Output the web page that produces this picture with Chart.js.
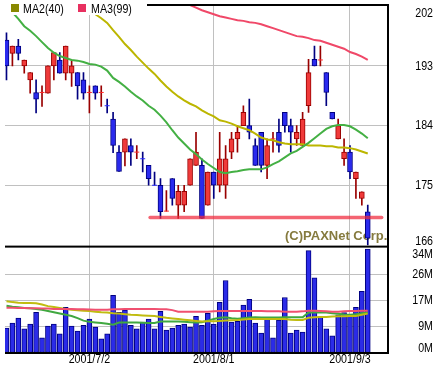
<!DOCTYPE html>
<html>
<head>
<meta charset="utf-8">
<script src="https://cdn.jsdelivr.net/npm/chart.js@4.4.1/dist/chart.umd.min.js"></script>
<style>
html, body { margin: 0; padding: 0; background: #fff; }
canvas { display: block; }
</style>
</head>
<body>
<canvas id="stock-chart" width="439" height="367"></canvas>
<script>
// daily candles, index 0 .. 61 (2001/7/2 is index 14)
const opens  = [196.9,194.9,196.0,193.0,190.9,189.0,189.0,188.9,193.0,193.9,
                191.9,191.9,192.0,190.9,189.0,190.0,189.0,187.0,185.0,180.0,
                180.0,181.0,180.0,179.0,178.0,175.0,175.0,171.1,176.0,172.0,
                172.0,175.0,178.0,178.0,172.0,177.0,175.0,175.0,180.0,182.0,
                184.0,184.0,181.0,183.0,178.0,182.0,183.0,186.0,184.0,182.0,
                181.0,187.0,194.0,193.9,192.0,186.0,182.0,179.0,180.0,176.0,
                173.0,171.0];
const highs  = [198.0,196.0,197.0,193.9,192.0,190.9,190.0,193.0,195.0,195.0,
                196.0,193.9,192.0,192.0,190.0,190.0,190.0,188.0,186.0,181.0,
                182.0,182.0,181.0,180.0,178.0,177.0,176.0,174.2,176.0,175.0,
                175.0,179.0,183.0,179.0,177.0,177.0,183.0,181.0,183.0,184.0,
                187.0,188.0,182.0,183.0,182.0,183.0,185.0,186.0,185.0,184.0,
                186.0,194.0,196.0,196.0,192.0,186.0,185.0,182.0,181.0,177.0,
                174.0,172.0];
const lows   = [190.9,193.0,193.9,191.9,188.9,185.9,186.9,188.9,190.9,191.9,
                190.9,189.9,188.0,188.0,185.9,188.0,186.9,185.9,179.9,177.1,
                177.9,178.0,179.0,177.0,175.0,175.0,170.0,171.1,172.0,170.0,
                171.0,175.0,178.0,170.0,172.0,173.0,174.0,173.0,179.0,180.0,
                184.0,182.0,178.0,177.0,176.0,180.0,180.0,183.0,180.0,181.0,
                181.0,186.0,193.0,193.0,187.0,185.0,182.0,178.0,176.0,173.0,
                172.0,166.0];
const closes = [193.0,196.0,194.9,193.9,192.0,188.0,189.0,193.0,195.0,191.9,
                196.0,193.0,190.0,188.9,189.0,188.9,189.0,187.0,181.0,177.1,
                182.0,180.0,180.0,179.0,176.0,175.0,171.0,171.1,173.0,174.1,
                174.1,179.0,180.0,170.0,177.0,175.0,179.0,179.0,182.0,183.0,
                186.0,183.0,178.0,178.0,181.0,182.0,181.0,184.0,183.0,183.0,
                185.0,192.0,193.0,193.9,189.0,185.0,184.0,180.0,177.0,177.0,
                174.0,167.0];
// volume, millions of shares
const volumes = [8.1,9.7,11.3,7.8,9.4,13.2,4.9,8.7,9.4,6.2,
                 14.8,8.7,7.1,9.0,11.0,8.4,4.6,6.2,18.7,13.2,
                 13.9,9.0,7.8,10.0,11.0,7.8,13.5,7.4,8.1,9.0,
                 9.4,8.4,11.9,9.0,12.9,9.4,16.4,23.5,10.0,10.3,
                 15.5,17.4,9.7,6.5,11.6,4.9,10.7,18.0,6.5,7.4,
                 6.8,33.2,24.4,11.8,7.8,5.6,12.4,13.1,12.4,14.8,
                 20.0,33.7];

// price moving averages
const ma20 = [202.0,201.1,200.1,199.0,198.3,197.5,196.6,195.7,195.0,194.5,
              194.2,193.9,193.8,193.6,193.3,193.2,192.9,192.3,191.2,190.6,
              189.9,189.1,188.4,187.8,187.0,186.4,185.5,184.5,183.3,182.2,
              181.3,180.4,179.7,178.9,178.2,177.6,177.0,176.8,177.0,177.1,
              177.3,177.4,177.4,177.4,177.7,178.2,178.6,179.2,179.8,180.2,
              180.8,181.4,182.1,182.8,183.5,183.9,184.1,184.1,183.9,183.4,
              182.8,182.1];
const ma40 = [null,null,null,null,null,null,null,null,null,null,
              null,null,null,null,201.4,200.8,200.2,199.5,198.4,197.4,
              196.3,195.4,194.4,193.5,192.6,191.8,190.8,189.9,189.1,188.4,
              187.8,187.3,186.9,186.3,185.8,185.4,184.8,184.6,184.3,183.9,
              183.6,183.3,182.8,182.2,181.9,181.8,181.5,181.3,181.2,181.2,
              181.2,181.0,181.0,181.0,180.9,180.9,180.7,180.7,180.6,180.4,
              180.1,179.8];
const ma99 = [null,null,null,null,null,null,null,null,null,null,
              null,null,null,null,null,null,null,null,null,null,
              null,null,null,null,null,null,null,null,null,202.9,
              202.6,202.2,201.8,201.4,201.1,200.8,200.5,200.3,200.1,199.9,
              199.8,199.6,199.5,199.3,199.0,198.7,198.4,198.1,197.8,197.5,
              197.4,197.2,196.9,196.8,196.5,196.2,195.9,195.6,195.1,194.8,
              194.4,193.9];

// volume moving averages
const volMaGreen  = [15.3,15.0,14.8,14.6,14.5,14.3,14.0,13.6,13.2,12.8,
                     12.4,12.0,11.3,10.5,10.1,9.9,9.7,9.5,9.2,9.9,
                     9.9,9.9,9.9,9.8,9.7,9.7,10.2,10.2,10.2,10.2,
                     10.1,10.0,9.9,10.0,10.5,11.0,11.4,11.6,11.3,11.1,
                     11.3,11.5,11.6,11.5,11.5,11.5,11.5,11.6,11.6,11.6,
                     11.6,13.1,13.1,13.1,13.1,12.9,12.7,12.5,12.4,12.6,
                     12.9,13.1];
const volMaYellow = [16.8,16.5,16.3,16.2,16.2,16.1,15.7,15.2,14.9,14.6,
                     14.3,14.0,13.9,13.7,13.6,13.4,13.2,13.1,12.9,12.8,
                     12.6,12.4,12.3,12.2,12.1,12.0,11.7,11.4,11.2,11.0,
                     10.8,10.6,10.4,10.2,10.3,10.3,10.4,10.5,10.6,10.7,
                     10.9,11.0,11.0,11.0,11.0,11.0,11.0,11.0,10.8,10.7,
                     10.7,11.4,11.6,11.7,11.7,11.8,11.9,11.9,12.0,12.0,
                     12.4,12.8];
const volMaRed    = [14.7,14.7,14.6,14.6,14.5,14.5,14.4,14.4,14.3,14.3,
                     14.3,14.3,14.2,14.2,14.1,14.0,14.0,14.0,14.2,14.2,
                     14.3,14.3,14.3,14.3,14.3,14.3,14.2,14.2,13.9,13.4,
                     13.4,13.4,13.4,13.4,13.4,13.5,13.6,13.6,13.6,13.6,
                     13.6,13.6,13.6,13.6,13.5,13.5,13.5,13.4,13.4,13.4,
                     13.5,13.7,13.7,13.6,13.5,13.4,13.4,13.5,13.6,13.6,
                     13.7,13.7];

// support line drawn across the lows
const supportLevel = [170.15, 170.15];
const supportSpan = [24.25, 63.35];

// axis ticks
const priceTicks = [166, 175, 184, 193, 202];
const volumeTicks = [0, 8.5, 17, 25.5, 34];
const volumeTickLabels = ['0M', '9M', '17M', '26M', '34M'];
const dateTickIndex = [14, 35, 58];
const dateTickLabels = ['2001/7/2', '2001/8/1', '2001/9/3'];
const legendLabels = ['MA2(40)', 'MA3(99)'];
const watermark = '(C)PAXNet Corp.';

const UP_FILL = '#f03a3a', UP_LINE = '#990000', UP_DOJI = '#ff2a2a';
const DOWN_FILL = '#2a2aee', DOWN_LINE = '#000080', DOWN_DOJI = '#2a2aff';
const GRID = '#c0c0c0';
const LABEL_FONT = '13px "Liberation Sans", Arial, sans-serif';

/** Red when the close is up (a doji compares with the previous close) */
function isUp(i) {
    if (closes[i] !== opens[i]) return closes[i] > opens[i];
    return i === 0 || closes[i] >= closes[i - 1];
}

const toPoints = arr => arr.map((v, i) => ({ x: i, y: v }));

function lineSet(values, color, axis) {
    return {
        type: 'line',
        data: toPoints(values),
        yAxisID: axis,
        borderColor: color,
        borderWidth: 2,
        pointRadius: 0,
        tension: 0,
        order: 1
    };
}

/** Narrow text, like the old chart fonts */
function narrowText(ctx, text, x, y, align) {
    ctx.save();
    ctx.translate(x, y);
    ctx.scale(0.82, 1);
    ctx.textAlign = align;
    ctx.fillText(text, 0, 0);
    ctx.restore();
}

const framePlugin = {
    id: 'frame',
    beforeDatasetsDraw(chart) {
        const { ctx, chartArea, scales } = chart;
        ctx.save();
        ctx.font = 'bold 13px "Liberation Sans", Arial, sans-serif';
        ctx.fillStyle = '#857a3e';
        ctx.textBaseline = 'middle';
        ctx.fillText(watermark, chartArea.right - 103, scales.y.bottom - 10);
        ctx.restore();
    },
    afterDraw(chart) {
        const { ctx, chartArea: a, scales } = chart;
        const py = scales.y, vy = scales.yv, xs = scales.x;
        const w = a.right - a.left + 1;
        ctx.save();
        // frame lines
        ctx.fillStyle = '#000';
        ctx.fillRect(a.left, a.top - 1, w, 2);
        ctx.fillRect(a.right - 1, a.top - 1, 2, a.bottom - a.top + 2);
        ctx.fillRect(a.left, vy.top - 1, w, 2);
        ctx.fillRect(a.left, a.bottom - 1, w, 2);

        // legend box
        ctx.fillStyle = '#fff';
        ctx.fillRect(0, 0, 147, 15);
        ctx.font = LABEL_FONT;
        ctx.textBaseline = 'middle';
        ctx.fillStyle = '#888800';
        ctx.fillRect(11, 4, 8, 8);
        ctx.fillStyle = '#e83060';
        ctx.fillRect(78, 4, 8, 8);
        ctx.fillStyle = '#000';
        narrowText(ctx, legendLabels[0], 23, 9, 'left');
        narrowText(ctx, legendLabels[1], 91, 9, 'left');

        // right axis labels, kept inside each pane
        const labelX = 433;
        priceTicks.forEach(v => {
            const y = Math.min(Math.max(py.getPixelForValue(v), py.top + 8), py.bottom - 5);
            narrowText(ctx, String(v), labelX, y, 'right');
        });
        volumeTicks.forEach((v, i) => {
            const y = Math.min(Math.max(vy.getPixelForValue(v), vy.top + 8), vy.bottom - 5);
            narrowText(ctx, volumeTickLabels[i], labelX, y, 'right');
        });

        // date labels
        dateTickIndex.forEach((v, i) => {
            narrowText(ctx, dateTickLabels[i], xs.getPixelForValue(v), a.bottom + 6, 'center');
        });
        ctx.restore();
    }
};

const hideEnds = list => c => (c.tick && (c.tick.value === list[0] || c.tick.value === list[list.length - 1])) ? 'rgba(0,0,0,0)' : GRID;

const ctx = document.getElementById('stock-chart').getContext('2d');
new Chart(ctx, {
    type: 'bar',
    data: {
        datasets: [
            {
                // wicks
                data: lows.map((l, i) => ({ x: i, y: [l, highs[i]] })),
                yAxisID: 'y',
                grouped: false,
                barThickness: 1,
                borderWidth: 0,
                backgroundColor: c => isUp(c.dataIndex) ? UP_LINE : DOWN_LINE,
                order: 5
            },
            {
                // bodies
                data: opens.map((o, i) => ({ x: i, y: o === closes[i] ? null : [o, closes[i]] })),
                yAxisID: 'y',
                grouped: false,
                barThickness: 5,
                borderWidth: 1,
                borderSkipped: false,
                backgroundColor: c => isUp(c.dataIndex) ? UP_FILL : DOWN_FILL,
                borderColor: c => isUp(c.dataIndex) ? UP_LINE : DOWN_LINE,
                order: 4
            },
            {
                // doji marks
                type: 'line',
                data: opens.map((o, i) => ({ x: i, y: o === closes[i] ? o : null })),
                yAxisID: 'y',
                showLine: false,
                pointStyle: 'line',
                pointRadius: 2.5,
                pointBorderWidth: 1,
                pointBorderColor: c => isUp(c.dataIndex) ? UP_DOJI : DOWN_DOJI,
                order: 3
            },
            {
                // volume
                data: volumes.map((v, i) => ({ x: i, y: v })),
                yAxisID: 'yv',
                grouped: false,
                barThickness: 5,
                borderWidth: 1,
                borderSkipped: false,
                backgroundColor: '#2b2be8',
                borderColor: '#000080',
                order: 4
            },
            lineSet(ma20, '#44b044', 'y'),
            lineSet(ma40, '#bcb600', 'y'),
            lineSet(ma99, '#f04868', 'y'),
            lineSet(volMaRed, '#f05070', 'yv'),
            lineSet(volMaYellow, '#c0bc10', 'yv'),
            lineSet(volMaGreen, '#40a840', 'yv'),
            {
                type: 'line',
                data: supportSpan.map((x, i) => ({ x: x, y: supportLevel[i] })),
                yAxisID: 'y',
                borderColor: 'rgba(240,40,60,0.72)',
                borderWidth: 3.5,
                borderCapStyle: 'round',
                pointRadius: 0,
                order: 0
            }
        ]
    },
    options: {
        responsive: false,
        maintainAspectRatio: false,
        animation: false,
        devicePixelRatio: 1,
        layout: { padding: { left: 0, right: 51, top: 3, bottom: 14 } },
        plugins: { legend: { display: false }, tooltip: { enabled: false } },
        scales: {
            x: {
                type: 'linear',
                min: -0.25,
                max: -0.25 + 388 / 6,
                offset: false,
                afterBuildTicks: s => { s.ticks = dateTickIndex.map(v => ({ value: v })); },
                afterFit: s => { s.height = 0; },
                ticks: { display: false },
                grid: { color: GRID, drawTicks: false, offset: false },
                border: { display: false }
            },
            y: {
                type: 'linear',
                position: 'right',
                stack: 'panes',
                stackWeight: 243,
                min: 165.745,
                max: 202.195,
                afterBuildTicks: s => { s.ticks = priceTicks.map(v => ({ value: v })); },
                afterFit: s => { s.width = 0; },
                ticks: { display: false },
                grid: { color: hideEnds(priceTicks), drawTicks: false },
                border: { display: false }
            },
            yv: {
                type: 'linear',
                position: 'right',
                stack: 'panes',
                stackWeight: 107,
                min: 0,
                max: 34.5,
                afterBuildTicks: s => { s.ticks = volumeTicks.map(v => ({ value: v })); },
                afterFit: s => { s.width = 0; },
                ticks: { display: false },
                grid: { color: hideEnds(volumeTicks), drawTicks: false },
                border: { display: false }
            }
        }
    },
    plugins: [framePlugin]
});
</script>
</body>
</html>
